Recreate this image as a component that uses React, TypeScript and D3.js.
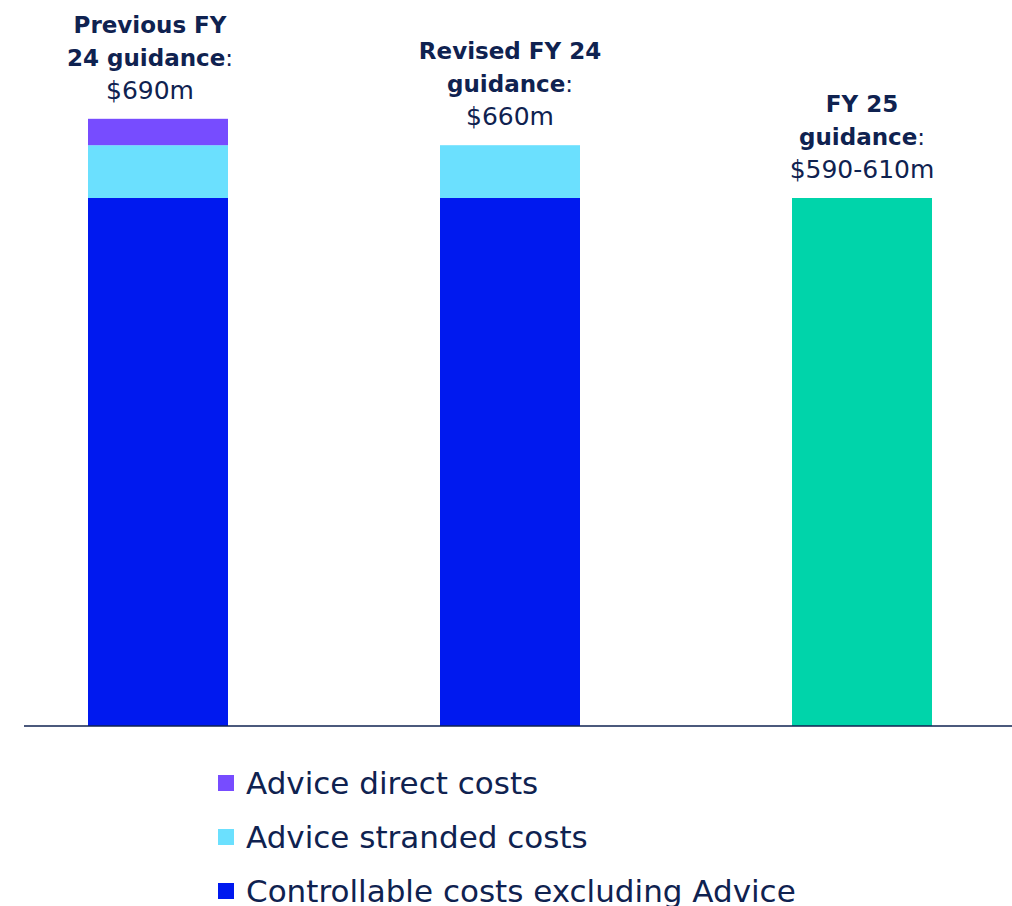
import React, { useEffect, useRef } from 'react'
import * as d3 from 'd3'

const CATEGORIES = ['Previous FY 24', 'Revised FY 24', 'FY 25']
const SERIES = ['Controllable costs excluding Advice', 'Advice stranded costs', 'Advice direct costs', 'FY 25 guidance']
const CONTROLLABLE = [600, 600, 0]
const STRANDED = [60, 60, 0]
const DIRECT = [30, 0, 0]
const FY25 = [0, 0, 600]
const LABEL_BOLD = [['Previous FY', '24 guidance'], ['Revised FY 24', 'guidance'], ['FY 25', 'guidance']]
const LABEL_VALUE = ['$690m', '$660m', '$590-610m']
const LEGEND = ['Advice direct costs', 'Advice stranded costs', 'Controllable costs excluding Advice']

const COLORS: Record<string, string> = {
  'Controllable costs excluding Advice': '#0019ef',
  'Advice stranded costs': '#6be0fe',
  'Advice direct costs': '#774cff',
  'FY 25 guidance': '#00d4aa',
}
const NAVY = '#0f2250'
const FONT = "'DejaVu Sans', sans-serif"

export default function App() {
  const svgRef = useRef<SVGSVGElement>(null)

  useEffect(() => {
    const svg = d3.select(svgRef.current)
    svg.selectAll('*').remove()

    const width = 1012
    const baseY = 726

    const x = d3.scalePoint<string>().domain(CATEGORIES).range([-18, 1038]).padding(0.5)
    const y = d3.scaleLinear().domain([0, 800]).range([baseY, baseY - 704])
    const barW = 140

    const rows = CATEGORIES.map((c, i) => ({
      cat: c,
      'Controllable costs excluding Advice': CONTROLLABLE[i],
      'Advice stranded costs': STRANDED[i],
      'Advice direct costs': DIRECT[i],
      'FY 25 guidance': FY25[i],
    }))
    const stacked = d3.stack<any>().keys(SERIES)(rows)

    const g = svg.append('g')
    stacked.forEach(layer => {
      g.selectAll(null)
        .data(layer.filter(d => d[1] - d[0] > 0))
        .join('rect')
        .attr('x', d => (x(d.data.cat) as number) - barW / 2)
        .attr('width', barW)
        .attr('y', d => y(d[1]))
        .attr('height', d => y(d[0]) - y(d[1]))
        .attr('fill', COLORS[layer.key])
    })

    // baseline
    svg.append('line')
      .attr('x1', 24).attr('x2', width)
      .attr('y1', baseY).attr('y2', baseY)
      .attr('stroke', NAVY).attr('stroke-width', 1.5)

    // labels above bars (first one sits a bit left of its bar in the original)
    CATEGORIES.forEach((c, i) => {
      const total = CONTROLLABLE[i] + STRANDED[i] + DIRECT[i] + FY25[i]
      const cx = (x(c) as number) - (i === 0 ? 8 : 0)
      const bottom = y(total) - 20
      const lh = 33
      const t = svg.append('text')
        .attr('text-anchor', 'middle')
        .attr('font-family', FONT)
        .attr('font-size', 23)
        .attr('fill', NAVY)
      const lines = LABEL_BOLD[i]
      lines.forEach((ln, k) => {
        t.append('tspan')
          .attr('x', cx)
          .attr('y', bottom - lh * (lines.length - k))
          .attr('font-weight', 'bold')
          .text(ln)
        if (k === lines.length - 1) {
          t.append('tspan').attr('font-weight', 'normal').text(':')
        }
      })
      t.append('tspan')
        .attr('x', cx)
        .attr('y', bottom)
        .attr('font-size', 25)
        .text(LABEL_VALUE[i])
    })

    // legend
    const lg = svg.append('g')
    LEGEND.forEach((name, i) => {
      const ly = 783 + i * 54
      lg.append('rect')
        .attr('x', 218).attr('y', ly - 8)
        .attr('width', 16).attr('height', 16)
        .attr('fill', COLORS[name])
      lg.append('text')
        .attr('x', 246).attr('y', ly + 11)
        .attr('font-family', FONT)
        .attr('font-size', 31)
        .attr('fill', NAVY)
        .text(name)
    })
  }, [])

  return (
    <svg ref={svgRef} width={1012} height={906}
      style={{ position: 'absolute', left: 0, top: 0, background: '#fff' }} />
  )
}
